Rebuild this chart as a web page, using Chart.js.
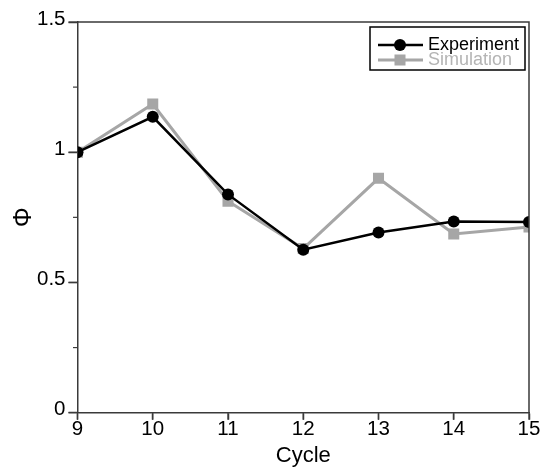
<!DOCTYPE html>
<html>
<head>
<meta charset="utf-8">
<script src="https://cdn.jsdelivr.net/npm/chart.js@4/dist/chart.umd.min.js"></script>
<style>
  html, body { margin: 0; padding: 0; background: #fff; }
  #wrap { width: 543px; height: 470px; }
</style>
</head>
<body>
<div id="wrap"><canvas id="chart" width="543" height="470"></canvas></div>
<script>
// data
const cycles = [9, 10, 11, 12, 13, 14, 15];
const experiment = [1.0, 1.136, 0.838, 0.626, 0.692, 0.734, 0.732];
const simulation = [1.0, 1.185, 0.812, 0.630, 0.900, 0.686, 0.713];
const yMajorTicks = [0, 0.5, 1, 1.5];
const yMinorTicks = [0.25, 0.75, 1.25];

const FONT = "Arial, 'Liberation Sans', sans-serif";
const AXIS_COLOR = '#3a3a3a';

// frame on top/right, tick marks, boxed legend in the corner
const framePlugin = {
    id: 'frame',
    afterDraw(chart) {
        const { ctx, chartArea: a, scales } = chart;
        ctx.save();
        ctx.strokeStyle = AXIS_COLOR;
        ctx.lineWidth = 1.5;
        ctx.beginPath();
        ctx.moveTo(a.left, a.top);
        ctx.lineTo(a.right, a.top);
        ctx.lineTo(a.right, a.bottom);
        ctx.stroke();

        // major ticks, outward
        ctx.lineWidth = 1.3;
        yMajorTicks.forEach(v => {
            const y = scales.y.getPixelForValue(v);
            ctx.beginPath();
            ctx.moveTo(a.left - 9, y);
            ctx.lineTo(a.left, y);
            ctx.stroke();
        });
        cycles.forEach(v => {
            const x = scales.x.getPixelForValue(v);
            ctx.beginPath();
            ctx.moveTo(x, a.bottom);
            ctx.lineTo(x, a.bottom + 7);
            ctx.stroke();
        });
        // minor ticks
        ctx.lineWidth = 1.2;
        yMinorTicks.forEach(v => {
            const y = scales.y.getPixelForValue(v);
            ctx.beginPath();
            ctx.moveTo(a.left - 4.5, y);
            ctx.lineTo(a.left, y);
            ctx.stroke();
        });

        // legend
        const bx = a.right - 159, by = a.top + 5, bw = 155, bh = 43;
        ctx.strokeStyle = '#000';
        ctx.lineWidth = 1.5;
        ctx.strokeRect(bx, by, bw, bh);
        ctx.font = '18px ' + FONT;
        ctx.textBaseline = 'middle';
        chart.data.datasets.forEach((ds, i) => {
            const y = by + 18 + i * 15;
            ctx.strokeStyle = ds.borderColor;
            ctx.lineWidth = ds.borderWidth;
            ctx.beginPath();
            ctx.moveTo(bx + 8, y);
            ctx.lineTo(bx + 53, y);
            ctx.stroke();
            ctx.fillStyle = ds.pointBackgroundColor;
            if (ds.pointStyle === 'rect') {
                ctx.fillRect(bx + 30 - 5.5, y - 5.5, 11, 11);
            } else {
                ctx.beginPath();
                ctx.arc(bx + 30, y, 6, 0, Math.PI * 2);
                ctx.fill();
            }
            ctx.fillStyle = ds.labelColor;
            ctx.fillText(ds.label, bx + 58, y);
        });
        ctx.restore();
    }
};

new Chart(document.getElementById('chart'), {
    type: 'line',
    data: {
        datasets: [
            {
                label: 'Experiment',
                data: cycles.map((c, i) => ({ x: c, y: experiment[i] })),
                borderColor: '#000000',
                backgroundColor: '#000000',
                pointBackgroundColor: '#000000',
                pointBorderWidth: 0,
                borderWidth: 2.5,
                pointStyle: 'circle',
                pointRadius: 6,
                labelColor: '#000000',
                order: 0
            },
            {
                label: 'Simulation',
                data: cycles.map((c, i) => ({ x: c, y: simulation[i] })),
                borderColor: '#a6a6a6',
                backgroundColor: '#a6a6a6',
                pointBackgroundColor: '#a6a6a6',
                pointBorderWidth: 0,
                borderWidth: 3,
                pointStyle: 'rect',
                pointRadius: 7.8,
                labelColor: '#b4b4b4',
                order: 1
            }
        ]
    },
    options: {
        responsive: false,
        animation: false,
        events: [],
        layout: { padding: { top: 22, right: 14, left: 0, bottom: 0 } },
        plugins: {
            legend: { display: false },
            tooltip: { enabled: false }
        },
        scales: {
            x: {
                type: 'linear',
                min: 9,
                max: 15,
                afterBuildTicks: scale => {
                    scale.ticks = cycles.map(v => ({ value: v }));
                },
                afterFit: scale => { scale.height = 57.3; },
                border: { display: true, color: AXIS_COLOR, width: 1.5 },
                grid: { drawOnChartArea: false, drawTicks: true, tickLength: 7, tickColor: AXIS_COLOR, tickWidth: 1.5 },
                ticks: {
                    color: '#000',
                    font: { family: FONT, size: 20.5 },
                    padding: -3,
                    maxRotation: 0
                },
                title: {
                    display: true,
                    text: 'Cycle',
                    color: '#000',
                    font: { family: FONT, size: 22 },
                    padding: { top: 0, bottom: 1 }
                }
            },
            y: {
                type: 'linear',
                min: 0,
                max: 1.5,
                afterBuildTicks: scale => {
                    scale.ticks = yMajorTicks.map(v => ({ value: v }));
                },
                afterFit: scale => { scale.width = 77.5; },
                border: { display: true, color: AXIS_COLOR, width: 1.5 },
                grid: { drawOnChartArea: false, drawTicks: true, tickLength: 9, tickColor: AXIS_COLOR, tickWidth: 1.5 },
                ticks: {
                    color: '#000',
                    font: { family: FONT, size: 20.5 },
                    padding: 3,
                    labelOffset: -3,
                    callback: v => String(v)
                },
                title: {
                    display: true,
                    text: 'Φ',
                    color: '#000',
                    font: { family: FONT, size: 25 },
                    padding: { top: 9, bottom: 0 }
                }
            }
        }
    },
    plugins: [framePlugin]
});
</script>
</body>
</html>
